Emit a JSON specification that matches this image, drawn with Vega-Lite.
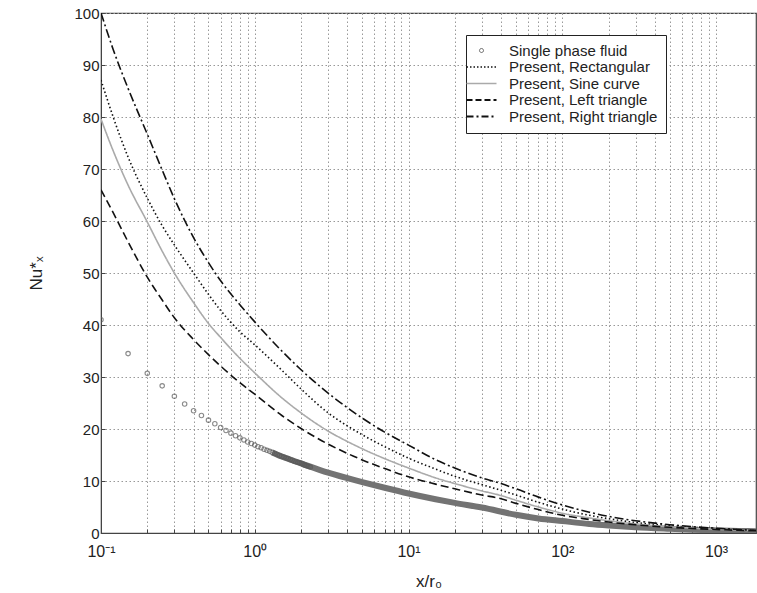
{
  "$schema": "https://vega.github.io/schema/vega-lite/v6.json",
  "width": 655,
  "height": 520,
  "autosize": {"type": "none"},
  "padding": {"left": 101, "top": 13, "right": 1, "bottom": 60},
  "background": "white",
  "datasets": {
    "pts": [
      {"x":0.1,"y":41},{"x":0.15,"y":34.5},{"x":0.2,"y":30.7},{"x":0.25,"y":28.3},{"x":0.3,"y":26.3},
      {"x":0.35,"y":24.8},{"x":0.4,"y":23.5},{"x":0.45,"y":22.6},{"x":0.5,"y":21.7},{"x":0.55,"y":21.0},
      {"x":0.6,"y":20.3},{"x":0.65,"y":19.7},{"x":0.7,"y":19.2},{"x":0.75,"y":18.7},{"x":0.8,"y":18.3},
      {"x":0.85,"y":17.9},{"x":0.9,"y":17.5},{"x":0.95,"y":17.2},{"x":1.0,"y":16.9},{"x":1.05,"y":16.6},
      {"x":1.1,"y":16.4},{"x":1.15,"y":16.1},{"x":1.2,"y":15.9},{"x":1.25,"y":15.7},{"x":1.3,"y":15.5},
      {"x":1.35,"y":15.3},{"x":1.4,"y":15.1},{"x":1.45,"y":14.9},{"x":1.5,"y":14.7},{"x":1.55,"y":14.6},
      {"x":1.6,"y":14.4},{"x":1.65,"y":14.3},{"x":1.7,"y":14.1},{"x":1.75,"y":14.0},{"x":1.8,"y":13.8},
      {"x":1.85,"y":13.7},{"x":1.9,"y":13.6},{"x":1.95,"y":13.5},{"x":2.0,"y":13.4},{"x":2.05,"y":13.3},
      {"x":2.1,"y":13.1},{"x":2.15,"y":13.0},{"x":2.2,"y":12.9},{"x":2.25,"y":12.8},{"x":2.3,"y":12.7}
    ],
    "band": [
      {"x":1.3,"y":15.5},{"x":1.5,"y":14.7},{"x":2,"y":13.4},{"x":3,"y":11.6},{"x":5,"y":9.8},{"x":7,"y":8.7},
      {"x":10,"y":7.6},{"x":15,"y":6.5},{"x":20,"y":5.8},{"x":30,"y":4.9},{"x":50,"y":3.5},
      {"x":70,"y":2.8},{"x":100,"y":2.3},{"x":150,"y":1.75},{"x":200,"y":1.45},{"x":300,"y":1.1},
      {"x":500,"y":0.8},{"x":700,"y":0.63},{"x":1000,"y":0.5},{"x":1400,"y":0.4},{"x":1820,"y":0.33}
    ],
    "curves": [
      {"series":"Present, Rectangular","x":0.1,"y":87.1},{"series":"Present, Rectangular","x":0.12,"y":80},{"series":"Present, Rectangular","x":0.15,"y":72.3},{"series":"Present, Rectangular","x":0.2,"y":64.4},{"series":"Present, Rectangular","x":0.25,"y":59.1},{"series":"Present, Rectangular","x":0.3,"y":55.4},{"series":"Present, Rectangular","x":0.4,"y":50},{"series":"Present, Rectangular","x":0.5,"y":45.9},{"series":"Present, Rectangular","x":0.6,"y":42.8},{"series":"Present, Rectangular","x":0.8,"y":38.7},{"series":"Present, Rectangular","x":1,"y":36.2},{"series":"Present, Rectangular","x":1.5,"y":31.3},{"series":"Present, Rectangular","x":2,"y":27.7},{"series":"Present, Rectangular","x":3,"y":23.1},{"series":"Present, Rectangular","x":4,"y":20.6},{"series":"Present, Rectangular","x":5,"y":18.9},{"series":"Present, Rectangular","x":7,"y":16.6},{"series":"Present, Rectangular","x":10,"y":14.4},{"series":"Present, Rectangular","x":15,"y":12.3},{"series":"Present, Rectangular","x":20,"y":10.9},{"series":"Present, Rectangular","x":30,"y":9.3},{"series":"Present, Rectangular","x":40,"y":8.2},{"series":"Present, Rectangular","x":50,"y":7.3},{"series":"Present, Rectangular","x":70,"y":5.9},{"series":"Present, Rectangular","x":100,"y":4.6},{"series":"Present, Rectangular","x":150,"y":3.4},{"series":"Present, Rectangular","x":200,"y":2.75},{"series":"Present, Rectangular","x":300,"y":2.0},{"series":"Present, Rectangular","x":500,"y":1.4},{"series":"Present, Rectangular","x":700,"y":1.1},{"series":"Present, Rectangular","x":1000,"y":0.85},{"series":"Present, Rectangular","x":1400,"y":0.63},{"series":"Present, Rectangular","x":1820,"y":0.5},
      {"series":"Present, Sine curve","x":0.1,"y":79.6},{"series":"Present, Sine curve","x":0.12,"y":73.5},{"series":"Present, Sine curve","x":0.15,"y":66.9},{"series":"Present, Sine curve","x":0.2,"y":59.8},{"series":"Present, Sine curve","x":0.25,"y":54.2},{"series":"Present, Sine curve","x":0.3,"y":50},{"series":"Present, Sine curve","x":0.4,"y":44.3},{"series":"Present, Sine curve","x":0.5,"y":40.3},{"series":"Present, Sine curve","x":0.6,"y":37.6},{"series":"Present, Sine curve","x":0.8,"y":33.6},{"series":"Present, Sine curve","x":1,"y":30.8},{"series":"Present, Sine curve","x":1.5,"y":26.0},{"series":"Present, Sine curve","x":2,"y":23.1},{"series":"Present, Sine curve","x":3,"y":19.6},{"series":"Present, Sine curve","x":4,"y":17.6},{"series":"Present, Sine curve","x":5,"y":16.2},{"series":"Present, Sine curve","x":7,"y":14.3},{"series":"Present, Sine curve","x":10,"y":12.5},{"series":"Present, Sine curve","x":15,"y":10.6},{"series":"Present, Sine curve","x":20,"y":9.5},{"series":"Present, Sine curve","x":30,"y":8.1},{"series":"Present, Sine curve","x":40,"y":7.2},{"series":"Present, Sine curve","x":50,"y":6.3},{"series":"Present, Sine curve","x":70,"y":5.0},{"series":"Present, Sine curve","x":100,"y":3.8},{"series":"Present, Sine curve","x":150,"y":2.9},{"series":"Present, Sine curve","x":200,"y":2.35},{"series":"Present, Sine curve","x":300,"y":1.75},{"series":"Present, Sine curve","x":500,"y":1.2},{"series":"Present, Sine curve","x":700,"y":0.95},{"series":"Present, Sine curve","x":1000,"y":0.74},{"series":"Present, Sine curve","x":1400,"y":0.56},{"series":"Present, Sine curve","x":1820,"y":0.45},
      {"series":"Present, Left triangle","x":0.1,"y":66},{"series":"Present, Left triangle","x":0.12,"y":61.6},{"series":"Present, Left triangle","x":0.15,"y":56.0},{"series":"Present, Left triangle","x":0.2,"y":49.2},{"series":"Present, Left triangle","x":0.25,"y":44.8},{"series":"Present, Left triangle","x":0.3,"y":41.4},{"series":"Present, Left triangle","x":0.4,"y":37.2},{"series":"Present, Left triangle","x":0.5,"y":34.3},{"series":"Present, Left triangle","x":0.6,"y":32.1},{"series":"Present, Left triangle","x":0.8,"y":28.9},{"series":"Present, Left triangle","x":1,"y":26.7},{"series":"Present, Left triangle","x":1.5,"y":22.6},{"series":"Present, Left triangle","x":2,"y":20.1},{"series":"Present, Left triangle","x":3,"y":17.1},{"series":"Present, Left triangle","x":4,"y":15.3},{"series":"Present, Left triangle","x":5,"y":14.05},{"series":"Present, Left triangle","x":7,"y":12.4},{"series":"Present, Left triangle","x":10,"y":10.8},{"series":"Present, Left triangle","x":15,"y":9.4},{"series":"Present, Left triangle","x":20,"y":8.5},{"series":"Present, Left triangle","x":30,"y":7.3},{"series":"Present, Left triangle","x":40,"y":6.6},{"series":"Present, Left triangle","x":50,"y":5.7},{"series":"Present, Left triangle","x":70,"y":4.5},{"series":"Present, Left triangle","x":100,"y":3.4},{"series":"Present, Left triangle","x":150,"y":2.6},{"series":"Present, Left triangle","x":200,"y":2.1},{"series":"Present, Left triangle","x":300,"y":1.58},{"series":"Present, Left triangle","x":500,"y":1.1},{"series":"Present, Left triangle","x":700,"y":0.87},{"series":"Present, Left triangle","x":1000,"y":0.68},{"series":"Present, Left triangle","x":1400,"y":0.52},{"series":"Present, Left triangle","x":1820,"y":0.42},
      {"series":"Present, Right triangle","x":0.1,"y":100},{"series":"Present, Right triangle","x":0.12,"y":93.0},{"series":"Present, Right triangle","x":0.15,"y":85.5},{"series":"Present, Right triangle","x":0.2,"y":76.7},{"series":"Present, Right triangle","x":0.25,"y":69.8},{"series":"Present, Right triangle","x":0.3,"y":64.3},{"series":"Present, Right triangle","x":0.4,"y":56.8},{"series":"Present, Right triangle","x":0.5,"y":52.0},{"series":"Present, Right triangle","x":0.6,"y":48.5},{"series":"Present, Right triangle","x":0.8,"y":43.9},{"series":"Present, Right triangle","x":1,"y":40.6},{"series":"Present, Right triangle","x":1.5,"y":35.0},{"series":"Present, Right triangle","x":2,"y":31.4},{"series":"Present, Right triangle","x":3,"y":26.9},{"series":"Present, Right triangle","x":4,"y":24.1},{"series":"Present, Right triangle","x":5,"y":22.1},{"series":"Present, Right triangle","x":7,"y":19.4},{"series":"Present, Right triangle","x":10,"y":16.9},{"series":"Present, Right triangle","x":15,"y":14.1},{"series":"Present, Right triangle","x":20,"y":12.5},{"series":"Present, Right triangle","x":30,"y":10.6},{"series":"Present, Right triangle","x":40,"y":9.5},{"series":"Present, Right triangle","x":50,"y":8.5},{"series":"Present, Right triangle","x":70,"y":6.9},{"series":"Present, Right triangle","x":100,"y":5.4},{"series":"Present, Right triangle","x":150,"y":4.0},{"series":"Present, Right triangle","x":200,"y":3.2},{"series":"Present, Right triangle","x":300,"y":2.35},{"series":"Present, Right triangle","x":500,"y":1.6},{"series":"Present, Right triangle","x":700,"y":1.22},{"series":"Present, Right triangle","x":1000,"y":0.92},{"series":"Present, Right triangle","x":1400,"y":0.66},{"series":"Present, Right triangle","x":1820,"y":0.5}
    ]
  },
  "encoding": {
    "x": {
      "field": "x", "type": "quantitative",
      "scale": {"type": "log", "domain": [0.1, 1820], "nice": false},
      "axis": {
        "title": "x/r₀",
        "titleFontSize": 17,
        "titlePadding": 14,
        "values": [0.1,0.2,0.3,0.4,0.5,0.6,0.7,0.8,0.9,1,2,3,4,5,6,7,8,9,10,20,30,40,50,60,70,80,90,100,200,300,400,500,600,700,800,900,1000],
        "labelExpr": "datum.value == 0.1 ? '10⁻¹' : datum.value == 1 ? '10⁰' : datum.value == 10 ? '10¹' : datum.value == 100 ? '10²' : datum.value == 1000 ? '10³' : ''",
        "labelFlush": false,
        "labelOverlap": false,
        "labelPadding": 14,
        "labelFontSize": 16,
        "tickSize": -4,
        "grid": true
      }
    },
    "y": {
      "field": "y", "type": "quantitative",
      "scale": {"domain": [0, 100], "nice": false},
      "axis": {
        "title": "Nu*ₓ",
        "titleFontSize": 17,
        "values": [0,10,20,30,40,50,60,70,80,90,100],
        "tickSize": -4,
        "labelPadding": 6,
        "titlePadding": 28,
        "grid": true
      }
    }
  },
  "layer": [
    {
      "data": {"name": "band"},
      "mark": {"type": "line", "color": "#737373", "strokeWidth": 6, "clip": true, "interpolate": "monotone"}
    },
    {
      "data": {"name": "pts"},
      "mark": {"type": "point", "filled": false, "size": 20, "strokeWidth": 1.1, "clip": true},
      "encoding": {
        "color": {"datum": "Single phase fluid", "type": "nominal",
          "scale": {
            "domain": ["Single phase fluid", "Present, Rectangular", "Present, Sine curve", "Present, Left triangle", "Present, Right triangle"],
            "range": ["#5a5a5a", "#111111", "#aaaaaa", "#111111", "#111111"]
          }
        }
      }
    },
    {
      "data": {"name": "curves"},
      "mark": {"type": "line", "clip": true, "interpolate": "monotone"},
      "encoding": {
        "color": {
          "field": "series", "type": "nominal",
          "scale": {
            "domain": ["Single phase fluid", "Present, Rectangular", "Present, Sine curve", "Present, Left triangle", "Present, Right triangle"],
            "range": ["#5a5a5a", "#111111", "#aaaaaa", "#111111", "#111111"]
          },
          "legend": {
            "orient": "none", "legendX": 365, "legendY": 22, "title": null,
            "strokeColor": "#222", "fillColor": "white", "padding": 8,
            "labelFont": "Liberation Sans", "labelFontSize": 15, "labelColor": "#222",
            "symbolType": "stroke", "symbolSize": 900, "rowPadding": 0.5, "labelOffset": 20,
            "encode": {
              "symbols": {
                "update": {
                  "shape": {"signal": "datum.value === 'Single phase fluid' ? 'circle' : 'stroke'"},
                  "size": {"signal": "datum.value === 'Single phase fluid' ? 16 : 900"},
                  "strokeDash": {"signal": "datum.value === 'Present, Rectangular' ? [1.5, 2] : datum.value === 'Present, Left triangle' ? [6, 3] : datum.value === 'Present, Right triangle' ? [7, 3, 2, 3] : [1, 0]"},
                  "strokeWidth": {"signal": "datum.value === 'Single phase fluid' ? 1 : datum.value === 'Present, Rectangular' ? 1.5 : datum.value === 'Present, Sine curve' ? 1.5 : 2.2"},
                  "stroke": {"signal": "datum.value === 'Single phase fluid' ? '#5a5a5a' : datum.value === 'Present, Sine curve' ? '#aaaaaa' : '#111111'"},
                  "fill": {"value": "transparent"}
                }
              }
            }
          }
        },
        "strokeDash": {
          "field": "series", "type": "nominal", "legend": null,
          "scale": {
            "domain": ["Present, Rectangular", "Present, Sine curve", "Present, Left triangle", "Present, Right triangle"],
            "range": [[1.5, 2.5], [1, 0], [8, 4], [9, 3, 2, 3]]
          }
        },
        "strokeWidth": {
          "field": "series", "type": "nominal", "legend": null,
          "scale": {
            "domain": ["Present, Rectangular", "Present, Sine curve", "Present, Left triangle", "Present, Right triangle"],
            "range": [1.6, 1.6, 2.4, 2.2]
          }
        }
      }
    }
  ],
  "config": {
    "view": {"stroke": "#444444", "strokeWidth": 1.2},
    "axis": {
      "labelFont": "Liberation Sans", "titleFont": "Liberation Sans",
      "labelFontSize": 15, "titleFontSize": 15,
      "labelColor": "#222222", "titleColor": "#222222", "titleFontWeight": "normal",
      "gridColor": "#999999", "gridDash": [1.5, 2.5], "gridWidth": 1,
      "domainColor": "#444444", "tickColor": "#444444"
    }
  }
}
